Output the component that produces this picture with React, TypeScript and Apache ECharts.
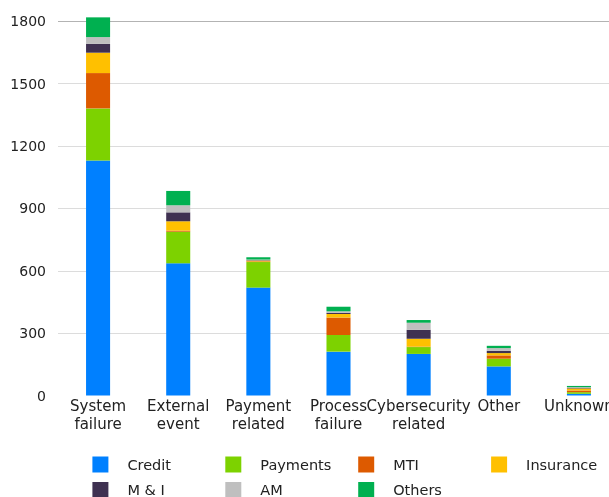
import React, { useEffect, useRef } from "react";
import * as echarts from "echarts";

const categories = ["System\nfailure", "External\nevent", "Payment\nrelated", "Process\nfailure", "Cybersecurity\nrelated", "Other", "Unknown"];
const credit = [1131, 636, 519, 211, 200, 140, 8];
const payments = [250, 152, 123, 80, 33, 37, 8];
const mti = [170, 5, 3, 84, 2, 16, 8];
const insurance = [98, 45, 4, 17, 38, 11, 10];
const mAndI = [43, 43, 2, 6, 43, 11, 3];
const am = [32, 34, 3, 7, 34, 13, 3];
const others = [95, 69, 11, 22, 13, 11, 6];

const seriesNames = ["Credit", "Payments", "MTI", "Insurance", "M & I", "AM", "Others"];
const seriesData = [credit, payments, mti, insurance, mAndI, am, others];
const colors = ["#0080FF", "#7DD200", "#DD5A00", "#FFC000", "#3F3151", "#BFBFBF", "#00B050"];

const legendColumns = [["Credit", "M & I"], ["Payments", "AM"], ["MTI", "Others"], ["Insurance"]];

export default function App() {
  const ref = useRef<HTMLDivElement>(null);
  useEffect(() => {
    document.body.style.margin = "0";
    document.documentElement.style.overflow = "hidden";
    document.body.style.overflow = "hidden";
    const chart = echarts.init(ref.current!, null, { renderer: "svg" });
    const font = "DejaVu Sans";
    chart.setOption({
      animation: false,
      color: colors,
      textStyle: { fontFamily: font },
      grid: { left: 58, right: 0, top: 21.3, bottom: 101.5, containLabel: false },
      legend: legendColumns.map((col, i) => ({
        orient: "vertical",
        left: 92.4 + i * 132.9,
        top: 456.5,
        height: 60,
        padding: 0,
        itemWidth: 16,
        itemHeight: 16,
        itemGap: 9.5,
        icon: "rect",
        data: col,
        textStyle: { fontFamily: font, fontSize: 14.5, color: "#222", padding: [0, 0, 0, 14] },
      })),
      xAxis: {
        type: "category",
        data: categories,
        axisLine: { show: false },
        axisTick: { show: false },
        axisLabel: {
          interval: 0,
          fontFamily: font,
          fontSize: 15,
          color: "#222",
          lineHeight: 18.3,
          margin: 1.5,
        },
      },
      yAxis: {
        type: "value",
        min: 0,
        max: 1800,
        interval: 300,
        axisLine: { show: false },
        axisTick: { show: false },
        axisLabel: {
          fontFamily: font,
          fontSize: 14,
          color: "#222",
          margin: 12,
          formatter: (v: number) => String(v),
        },
        splitLine: {
          lineStyle: {
            color: ["rgba(0,0,0,0)", "#dcdcdc", "#dcdcdc", "#dcdcdc", "#dcdcdc", "#dcdcdc", "#b3b3b3"],
            width: 1,
          },
        },
      },
      series: seriesNames.map((name, i) => ({
        name,
        type: "bar",
        stack: "total",
        barWidth: "30%",
        clip: false,
        data: seriesData[i],
        itemStyle: { color: colors[i] },
      })),
    });
    return () => chart.dispose();
  }, []);
  return <div ref={ref} style={{ position: "fixed", left: 0, top: 0, width: 619, height: 497 }} />;
}
